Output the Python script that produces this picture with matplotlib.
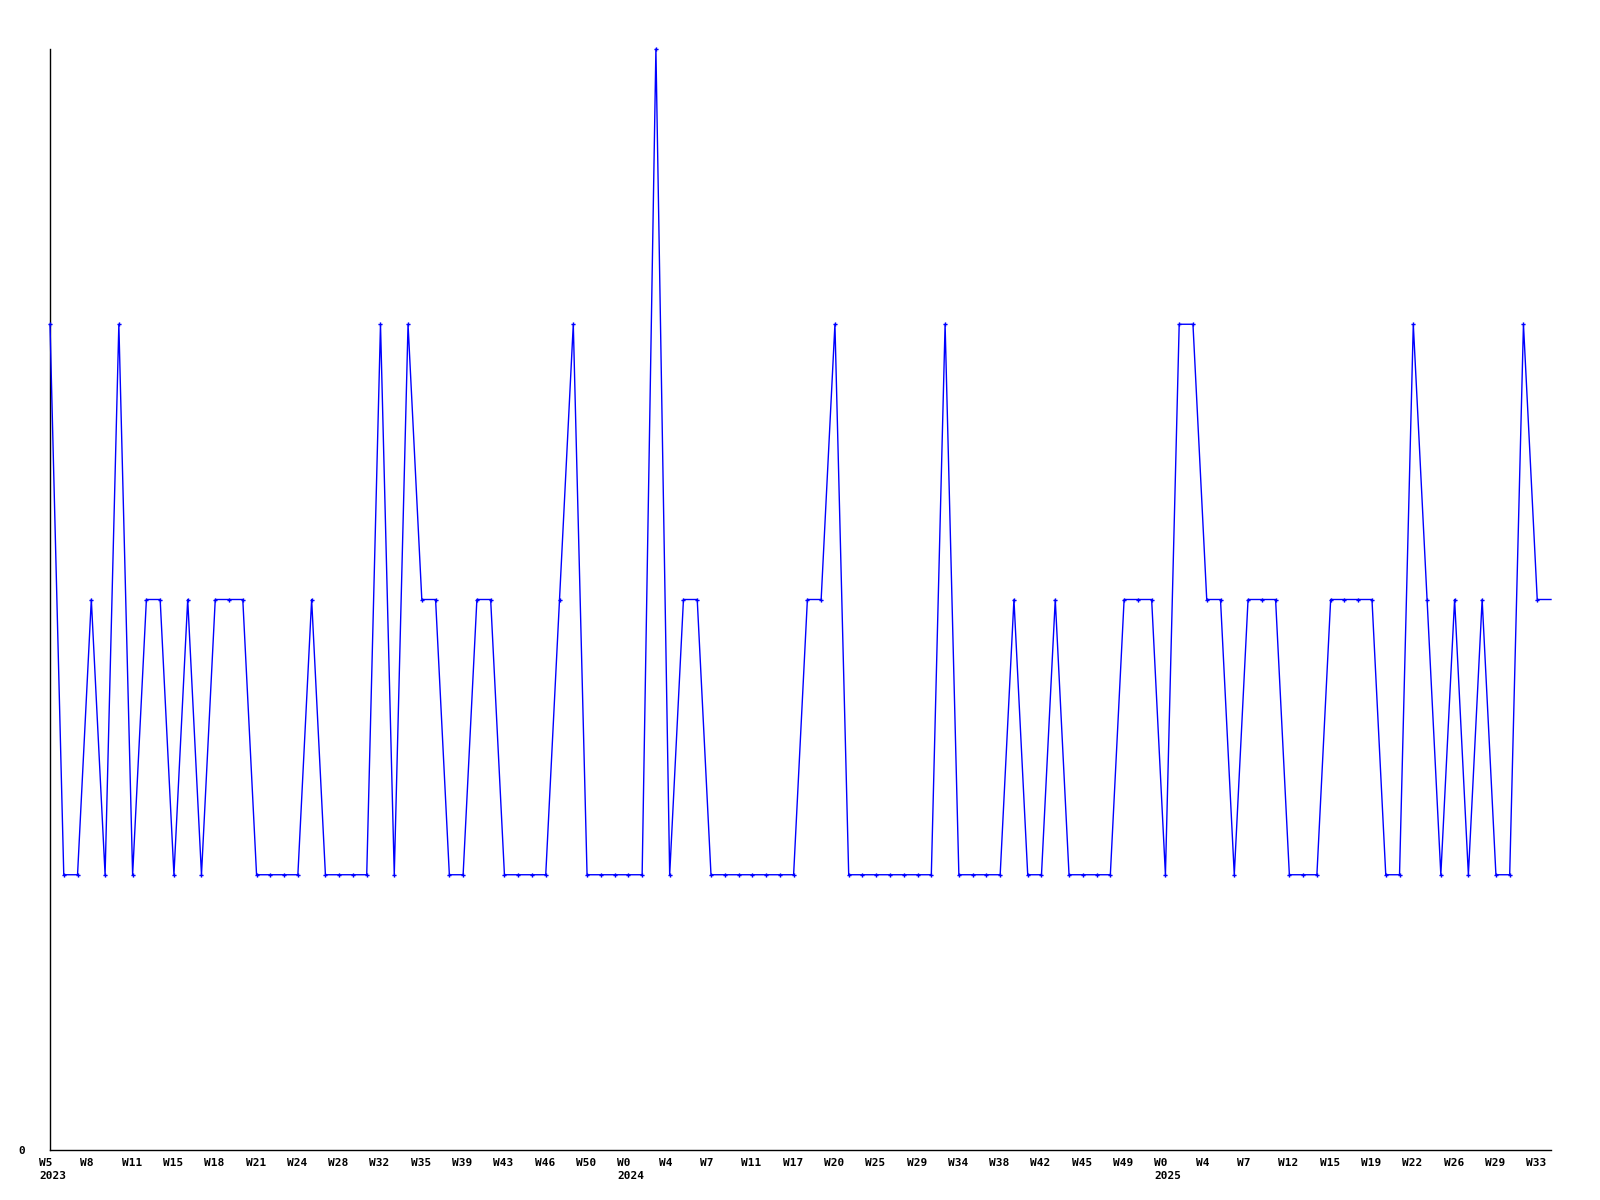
import matplotlib
matplotlib.use("Agg")
import matplotlib.pyplot as plt
from matplotlib.transforms import ScaledTranslation

# Weekly values (point index order), last value continues to the right edge
values = [
    3, 1, 1, 2, 1, 3, 1, 2, 2, 1, 2, 1, 2, 2, 2, 1, 1, 1, 1, 2, 1, 1, 1, 1, 3, 1, 3, 2, 2,
    1, 1, 2, 2, 1, 1, 1, 1, 2, 3, 1, 1, 1, 1, 1, 4, 1, 2, 2, 1, 1, 1, 1, 1, 1, 1, 2, 2,
    3, 1, 1, 1, 1, 1, 1, 1, 3, 1, 1, 1, 1, 2, 1, 1, 2, 1, 1, 1, 1, 2, 2, 2, 1, 3, 3, 2, 2, 1,
    2, 2, 2, 1, 1, 1, 2, 2, 2, 2, 1, 1, 3, 2, 1, 2, 1, 2, 1, 1, 3, 2,
    2,
]
week_labels = [
    "W5", "W8", "W11", "W15", "W18", "W21", "W24", "W28", "W32", "W35", "W39", "W43",
    "W46", "W50", "W0", "W4", "W7", "W11", "W17", "W20", "W25", "W29", "W34", "W38",
    "W42", "W45", "W49", "W0", "W4", "W7", "W12", "W15", "W19", "W22", "W26", "W29", "W33",
]
year_labels = {0: "2023", 14: "2024", 27: "2025"}
label_step = 3

fig = plt.figure(figsize=(16, 12), dpi=100)
ax = fig.add_axes([50 / 1600, 1 - 1150 / 1200, 1501 / 1600, (1150 - 49) / 1200])

x = list(range(len(values)))
n_marked = len(values) - 1
ax.plot(x, values, color="#0000ff", lw=1.0, clip_on=False, zorder=3)
ax.plot(x[:n_marked], values[:n_marked], linestyle="none", marker="P", markersize=3.0,
        markeredgewidth=0, color="#0000ff", clip_on=False, zorder=4)

ax.set_xlim(0, len(values) - 1)
ax.set_ylim(0, 4)

for s in ["top", "right"]:
    ax.spines[s].set_visible(False)
for s in ["left", "bottom"]:
    ax.spines[s].set_color("black")
    ax.spines[s].set_linewidth(1.0)

font = dict(family="DejaVu Sans Mono", weight="bold", size=8)

ticks = [i * label_step for i in range(len(week_labels))]
labels = []
for i, w in enumerate(week_labels):
    if i in year_labels:
        labels.append(w + "\n" + year_labels[i])
    else:
        labels.append(w)
ax.set_xticks(ticks)
ax.set_xticklabels(labels, ha="left", va="top", multialignment="left",
                   linespacing=1.35, **font)
ax.tick_params(axis="x", length=0, pad=6)
off = ScaledTranslation(-11 / 100, 0, fig.dpi_scale_trans)
for lab in ax.get_xticklabels():
    lab.set_transform(lab.get_transform() + off)

ax.set_yticks([0])
ax.set_yticklabels(["0"], **font)
ax.tick_params(axis="y", length=0, pad=18)

fig.savefig("out.png", dpi=100, facecolor="white")
